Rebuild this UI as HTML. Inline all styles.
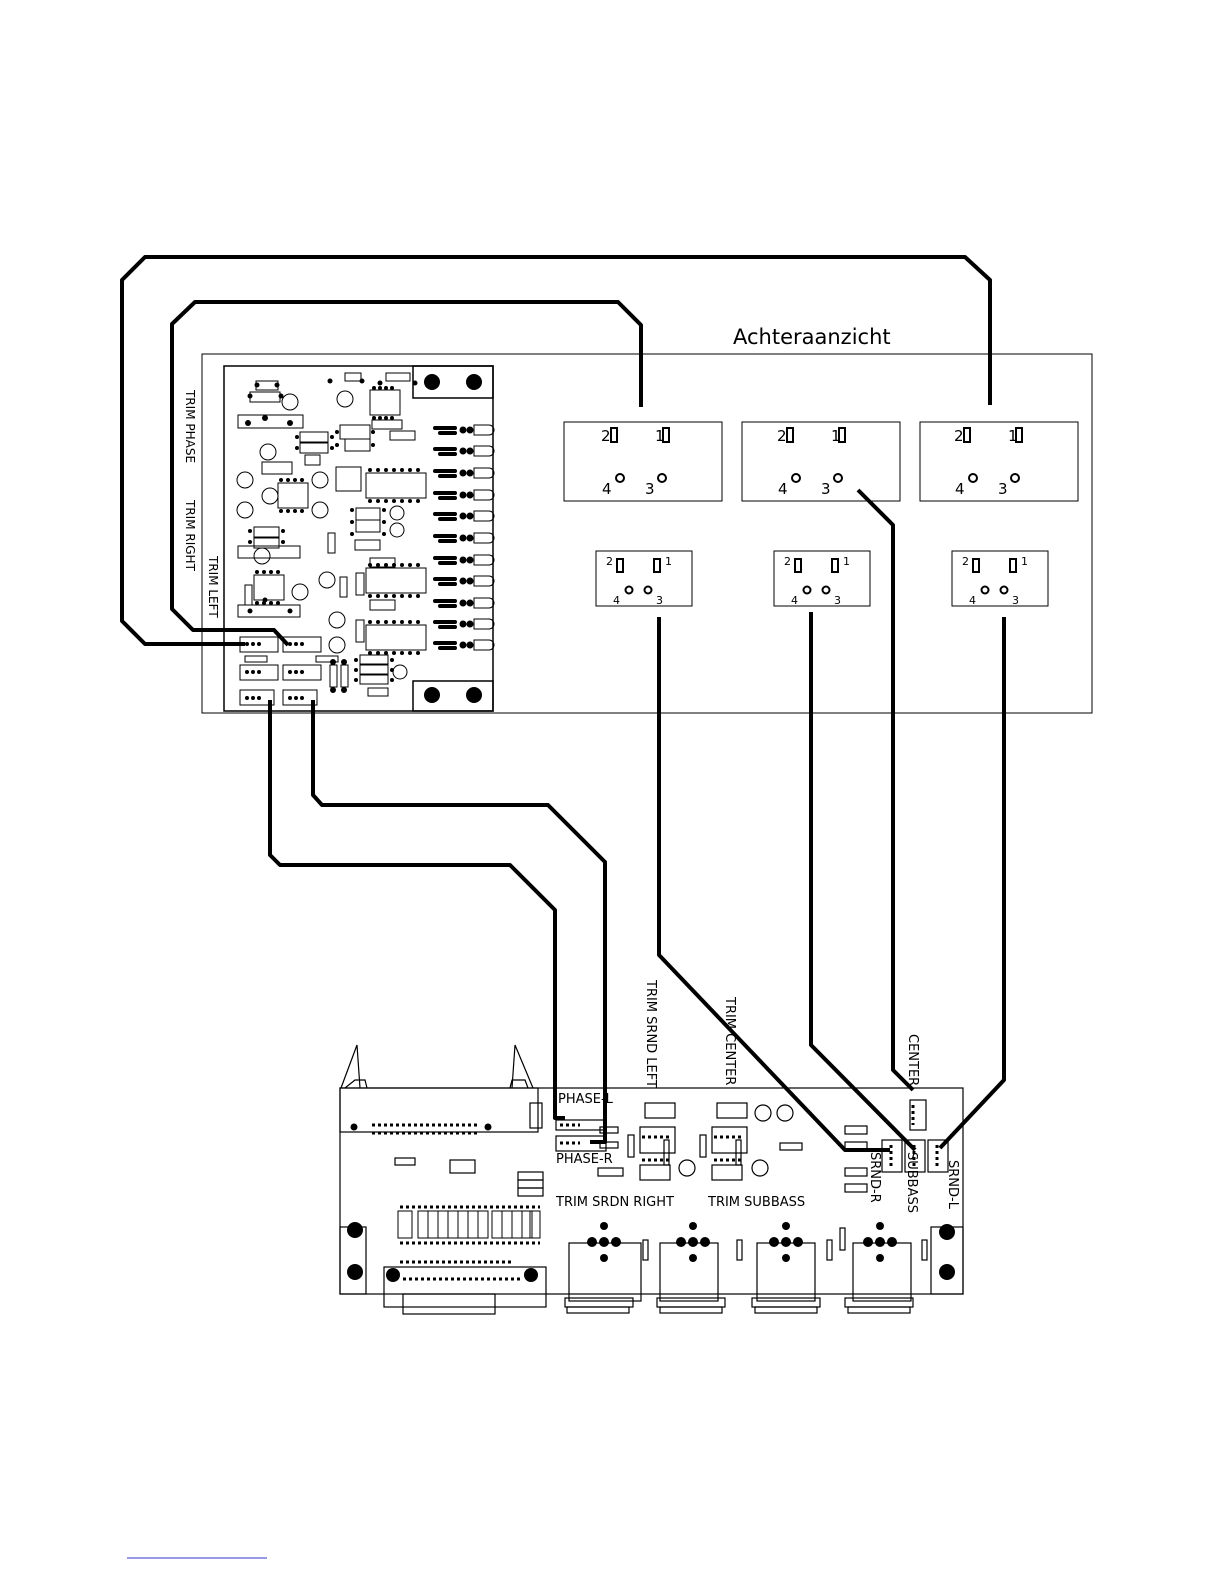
<!DOCTYPE html>
<html><head><meta charset="utf-8"><style>
html,body{margin:0;padding:0;background:#fff;width:1224px;height:1584px;overflow:hidden;}
svg{display:block;position:absolute;left:0;top:0;}
text{font-family:"DejaVu Sans","Liberation Sans",sans-serif;fill:#000;}
</style></head><body>
<svg width="1224" height="1584" viewBox="0 0 1224 1584" xmlns="http://www.w3.org/2000/svg">
<defs>
<g id="pr" stroke="#000"><line x1="435" y1="0" x2="455" y2="0" stroke-width="4" stroke-linecap="round"/><line x1="440" y1="5" x2="455" y2="5" stroke-width="4" stroke-linecap="round"/><circle cx="463" cy="2" r="3"/><circle cx="470" cy="2" r="3"/><path d="M474 -3 H489 A5 5 0 0 1 489 7 H474 Z" fill="none" stroke-width="1"/></g>
<g id="cb1">
<text x="601" y="441" font-size="15">2</text><rect x="611" y="428" width="6" height="14" fill="none" stroke="#000" stroke-width="2"/>
<text x="655" y="441" font-size="15">1</text><rect x="663" y="428" width="6" height="14" fill="none" stroke="#000" stroke-width="2"/>
<text x="602" y="494" font-size="15">4</text><circle cx="620" cy="478" r="4" fill="none" stroke="#000" stroke-width="2"/>
<text x="645" y="494" font-size="15">3</text><circle cx="662" cy="478" r="4" fill="none" stroke="#000" stroke-width="2"/>
</g>
<g id="cb2">
<text x="606" y="565" font-size="11">2</text><rect x="617" y="559" width="6" height="13" fill="none" stroke="#000" stroke-width="2"/>
<rect x="654" y="559" width="6" height="13" fill="none" stroke="#000" stroke-width="2"/><text x="665" y="565" font-size="11">1</text>
<text x="613" y="604" font-size="11">4</text><circle cx="629" cy="590" r="3.5" fill="none" stroke="#000" stroke-width="2"/>
<circle cx="648" cy="590" r="3.5" fill="none" stroke="#000" stroke-width="2"/><text x="656" y="604" font-size="11">3</text>
</g>
</defs>
<!-- top panel -->
<rect x="202" y="354" width="890" height="359" fill="none" stroke="#000" stroke-width="1"/>
<text x="733" y="344" font-size="21">Achteraanzicht</text>
<!-- top PCB -->
<rect x="224" y="366" width="269" height="345" fill="none" stroke="#000" stroke-width="1.5"/>
<rect x="413" y="366" width="80" height="32" fill="none" stroke="#000" stroke-width="1.5"/>
<circle cx="432" cy="382" r="8"/><circle cx="474" cy="382" r="8"/>
<rect x="413" y="681" width="80" height="30" fill="none" stroke="#000" stroke-width="1.5"/>
<circle cx="432" cy="695" r="8"/><circle cx="474" cy="695" r="8"/>
<use href="#pr" y="428"/><use href="#pr" y="449"/><use href="#pr" y="471"/><use href="#pr" y="493"/><use href="#pr" y="514"/><use href="#pr" y="536"/><use href="#pr" y="558"/><use href="#pr" y="579"/><use href="#pr" y="601"/><use href="#pr" y="622"/><use href="#pr" y="643"/>
<g fill="none" stroke="#000">
<rect x="370" y="390" width="30" height="25"/><rect x="366" y="473" width="60" height="25"/><rect x="366" y="568" width="60" height="25"/><rect x="366" y="625" width="60" height="25"/>
<rect x="278" y="483" width="30" height="25"/><rect x="254" y="575" width="30" height="25"/>
<rect x="256" y="381" width="22" height="9"/><rect x="250" y="392" width="30" height="10"/><rect x="238" y="415" width="65" height="13"/>
<rect x="300" y="432" width="28" height="10"/><rect x="300" y="443" width="28" height="10"/><rect x="305" y="455" width="15" height="10"/>
<rect x="262" y="462" width="30" height="12"/><rect x="254" y="527" width="25" height="10"/><rect x="254" y="538" width="25" height="10"/>
<rect x="238" y="546" width="62" height="12"/><rect x="238" y="605" width="62" height="12"/>
<rect x="345" y="373" width="16" height="8"/><rect x="386" y="373" width="24" height="8"/><rect x="340" y="425" width="30" height="14"/><rect x="345" y="439" width="25" height="12"/>
<rect x="372" y="420" width="30" height="9"/><rect x="390" y="431" width="25" height="9"/>
<rect x="336" y="467" width="25" height="24"/><rect x="356" y="508" width="24" height="12"/><rect x="356" y="520" width="24" height="12"/><rect x="355" y="540" width="25" height="10"/>
<rect x="370" y="558" width="25" height="9"/><rect x="356" y="573" width="8" height="22"/><rect x="356" y="620" width="8" height="22"/><rect x="370" y="600" width="25" height="10"/>
<rect x="360" y="655" width="28" height="9"/><rect x="360" y="665" width="28" height="9"/><rect x="360" y="675" width="28" height="9"/><rect x="368" y="688" width="20" height="8"/>
<rect x="328" y="533" width="7" height="20"/><rect x="340" y="577" width="7" height="20"/><rect x="245" y="585" width="7" height="20"/><rect x="330" y="665" width="7" height="22"/><rect x="341" y="665" width="7" height="22"/>
<rect x="240" y="637" width="38" height="15"/><rect x="283" y="637" width="38" height="15"/><rect x="240" y="665" width="38" height="15"/><rect x="283" y="665" width="38" height="15"/><rect x="240" y="690" width="34" height="15"/><rect x="283" y="690" width="34" height="15"/>
<rect x="245" y="656" width="22" height="6"/><rect x="316" y="656" width="22" height="6"/>
<circle cx="290" cy="402" r="8"/><circle cx="345" cy="399" r="8"/><circle cx="268" cy="452" r="8"/><circle cx="245" cy="480" r="8"/><circle cx="270" cy="496" r="8"/><circle cx="245" cy="510" r="8"/><circle cx="320" cy="480" r="8"/><circle cx="320" cy="510" r="8"/><circle cx="397" cy="513" r="7"/><circle cx="397" cy="530" r="7"/><circle cx="262" cy="556" r="8"/><circle cx="327" cy="580" r="8"/><circle cx="300" cy="592" r="8"/><circle cx="337" cy="620" r="8"/><circle cx="337" cy="645" r="8"/><circle cx="400" cy="672" r="7"/>
</g>
<g fill="#000">
<circle cx="257" cy="385" r="2.5"/><circle cx="277" cy="385" r="2.5"/><circle cx="250" cy="396" r="2.5"/><circle cx="281" cy="396" r="2.5"/><circle cx="265" cy="418" r="3"/><circle cx="290" cy="423" r="3"/><circle cx="248" cy="423" r="3"/>
<circle cx="330" cy="381" r="2.5"/><circle cx="362" cy="381" r="2.5"/><circle cx="380" cy="383" r="2.5"/><circle cx="415" cy="383" r="2.5"/>
<circle cx="374" cy="388" r="2"/><circle cx="380" cy="388" r="2"/><circle cx="386" cy="388" r="2"/><circle cx="392" cy="388" r="2"/><circle cx="374" cy="418" r="2"/><circle cx="380" cy="418" r="2"/><circle cx="386" cy="418" r="2"/><circle cx="392" cy="418" r="2"/>
<circle cx="370" cy="470" r="2"/><circle cx="378" cy="470" r="2"/><circle cx="386" cy="470" r="2"/><circle cx="394" cy="470" r="2"/><circle cx="402" cy="470" r="2"/><circle cx="410" cy="470" r="2"/><circle cx="418" cy="470" r="2"/>
<circle cx="370" cy="501" r="2"/><circle cx="378" cy="501" r="2"/><circle cx="386" cy="501" r="2"/><circle cx="394" cy="501" r="2"/><circle cx="402" cy="501" r="2"/><circle cx="410" cy="501" r="2"/><circle cx="418" cy="501" r="2"/>
<circle cx="370" cy="565" r="2"/><circle cx="378" cy="565" r="2"/><circle cx="386" cy="565" r="2"/><circle cx="394" cy="565" r="2"/><circle cx="402" cy="565" r="2"/><circle cx="410" cy="565" r="2"/><circle cx="418" cy="565" r="2"/>
<circle cx="370" cy="596" r="2"/><circle cx="378" cy="596" r="2"/><circle cx="386" cy="596" r="2"/><circle cx="394" cy="596" r="2"/><circle cx="402" cy="596" r="2"/><circle cx="410" cy="596" r="2"/><circle cx="418" cy="596" r="2"/>
<circle cx="370" cy="622" r="2"/><circle cx="378" cy="622" r="2"/><circle cx="386" cy="622" r="2"/><circle cx="394" cy="622" r="2"/><circle cx="402" cy="622" r="2"/><circle cx="410" cy="622" r="2"/><circle cx="418" cy="622" r="2"/>
<circle cx="370" cy="653" r="2"/><circle cx="378" cy="653" r="2"/><circle cx="386" cy="653" r="2"/><circle cx="394" cy="653" r="2"/><circle cx="402" cy="653" r="2"/><circle cx="410" cy="653" r="2"/><circle cx="418" cy="653" r="2"/>
<circle cx="281" cy="480" r="2"/><circle cx="288" cy="480" r="2"/><circle cx="295" cy="480" r="2"/><circle cx="302" cy="480" r="2"/><circle cx="281" cy="511" r="2"/><circle cx="288" cy="511" r="2"/><circle cx="295" cy="511" r="2"/><circle cx="302" cy="511" r="2"/>
<circle cx="257" cy="572" r="2"/><circle cx="264" cy="572" r="2"/><circle cx="271" cy="572" r="2"/><circle cx="278" cy="572" r="2"/><circle cx="257" cy="603" r="2"/><circle cx="264" cy="603" r="2"/><circle cx="271" cy="603" r="2"/><circle cx="278" cy="603" r="2"/>
<circle cx="297" cy="437" r="2"/><circle cx="297" cy="448" r="2"/><circle cx="332" cy="437" r="2"/><circle cx="332" cy="448" r="2"/><circle cx="337" cy="432" r="2"/><circle cx="337" cy="445" r="2"/><circle cx="373" cy="432" r="2"/><circle cx="373" cy="445" r="2"/>
<circle cx="352" cy="510" r="2"/><circle cx="352" cy="522" r="2"/><circle cx="352" cy="534" r="2"/><circle cx="384" cy="510" r="2"/><circle cx="384" cy="522" r="2"/><circle cx="384" cy="534" r="2"/>
<circle cx="250" cy="531" r="2"/><circle cx="250" cy="542" r="2"/><circle cx="283" cy="531" r="2"/><circle cx="283" cy="542" r="2"/>
<circle cx="250" cy="611" r="2.5"/><circle cx="290" cy="611" r="2.5"/><circle cx="265" cy="600" r="2.5"/>
<circle cx="356" cy="660" r="2"/><circle cx="356" cy="670" r="2"/><circle cx="356" cy="680" r="2"/><circle cx="392" cy="660" r="2"/><circle cx="392" cy="670" r="2"/><circle cx="392" cy="680" r="2"/>
<circle cx="333" cy="662" r="3"/><circle cx="344" cy="662" r="3"/><circle cx="333" cy="690" r="3"/><circle cx="344" cy="690" r="3"/>
<circle cx="247" cy="644" r="2"/><circle cx="253" cy="644" r="2"/><circle cx="259" cy="644" r="2"/><circle cx="290" cy="644" r="2"/><circle cx="296" cy="644" r="2"/><circle cx="302" cy="644" r="2"/>
<circle cx="247" cy="672" r="2"/><circle cx="253" cy="672" r="2"/><circle cx="259" cy="672" r="2"/><circle cx="290" cy="672" r="2"/><circle cx="296" cy="672" r="2"/><circle cx="302" cy="672" r="2"/>
<circle cx="247" cy="698" r="2"/><circle cx="253" cy="698" r="2"/><circle cx="259" cy="698" r="2"/><circle cx="290" cy="698" r="2"/><circle cx="296" cy="698" r="2"/><circle cx="302" cy="698" r="2"/>
</g>
<g font-size="12">
<text transform="translate(186,390) rotate(90)">TRIM PHASE</text>
<text transform="translate(186,500) rotate(90)">TRIM RIGHT</text>
<text transform="translate(209,556) rotate(90)">TRIM LEFT</text>
</g>
<g fill="none" stroke="#000" stroke-width="1">
<rect x="564" y="422" width="158" height="79"/><rect x="742" y="422" width="158" height="79"/><rect x="920" y="422" width="158" height="79"/>
<rect x="596" y="551" width="96" height="55"/><rect x="774" y="551" width="96" height="55"/><rect x="952" y="551" width="96" height="55"/>
</g>
<use href="#cb1"/><use href="#cb1" x="176"/><use href="#cb1" x="353"/>
<use href="#cb2"/><use href="#cb2" x="178"/><use href="#cb2" x="356"/>
<!-- bottom PCB -->
<g fill="none" stroke="#000" stroke-width="1.2">
<rect x="340" y="1088" width="623" height="206"/>
<rect x="340" y="1088" width="198" height="44"/>
<path d="M341 1088 L357 1045 L360 1088 M345 1088 L355 1080 H365 L367 1088 M512 1088 L515 1045 L533 1088 M510 1088 L512 1080 H525 L528 1088"/>
<rect x="340" y="1227" width="26" height="67"/><rect x="931" y="1227" width="32" height="67"/>
<rect x="384" y="1267" width="162" height="40"/><rect x="403" y="1294" width="92" height="20"/>
<rect x="556" y="1120" width="50" height="10"/><rect x="556" y="1136" width="50" height="15"/>
<rect x="910" y="1100" width="16" height="30"/>
<rect x="882" y="1140" width="20" height="32"/><rect x="905" y="1140" width="20" height="32"/><rect x="928" y="1140" width="20" height="32"/>
<rect x="530" y="1103" width="12" height="25"/>
<rect x="395" y="1158" width="20" height="7"/><rect x="450" y="1160" width="25" height="13"/>
<rect x="518" y="1172" width="25" height="8"/><rect x="518" y="1180" width="25" height="8"/><rect x="518" y="1188" width="25" height="8"/>
<rect x="645" y="1103" width="30" height="15"/><rect x="717" y="1103" width="30" height="15"/>
<rect x="640" y="1127" width="35" height="26"/><rect x="712" y="1127" width="35" height="26"/>
<rect x="640" y="1165" width="30" height="15"/><rect x="712" y="1165" width="30" height="15"/>
<rect x="598" y="1168" width="25" height="8"/><rect x="600" y="1127" width="18" height="6"/><rect x="600" y="1142" width="18" height="6"/>
<rect x="845" y="1126" width="22" height="8"/><rect x="845" y="1142" width="22" height="8"/><rect x="845" y="1168" width="22" height="8"/><rect x="845" y="1184" width="22" height="8"/><rect x="780" y="1143" width="22" height="7"/>
<rect x="628" y="1135" width="6" height="22"/><rect x="700" y="1135" width="6" height="22"/><rect x="664" y="1140" width="5" height="25"/><rect x="736" y="1140" width="5" height="25"/>
<circle cx="763" cy="1113" r="8"/><circle cx="785" cy="1113" r="8"/><circle cx="687" cy="1168" r="8"/><circle cx="760" cy="1168" r="8"/>
<rect x="569" y="1243" width="72" height="58"/><rect x="660" y="1243" width="58" height="58"/><rect x="757" y="1243" width="58" height="58"/><rect x="853" y="1243" width="58" height="58"/>
<rect x="565" y="1298" width="68" height="9"/><rect x="657" y="1298" width="68" height="9"/><rect x="752" y="1298" width="68" height="9"/><rect x="845" y="1298" width="68" height="9"/>
<rect x="567" y="1307" width="62" height="6"/><rect x="660" y="1307" width="62" height="6"/><rect x="755" y="1307" width="62" height="6"/><rect x="848" y="1307" width="62" height="6"/>
<rect x="643" y="1240" width="5" height="20"/><rect x="737" y="1240" width="5" height="20"/><rect x="827" y="1240" width="5" height="20"/><rect x="922" y="1240" width="5" height="20"/><rect x="840" y="1228" width="5" height="22"/>
</g>
<g fill="none" stroke="#000" stroke-width="1">
<rect x="398" y="1211" width="14" height="27"/><rect x="418" y="1211" width="10" height="27"/><rect x="428" y="1211" width="10" height="27"/><rect x="438" y="1211" width="10" height="27"/><rect x="448" y="1211" width="10" height="27"/><rect x="458" y="1211" width="10" height="27"/><rect x="468" y="1211" width="10" height="27"/><rect x="478" y="1211" width="10" height="27"/><rect x="492" y="1211" width="10" height="27"/><rect x="502" y="1211" width="10" height="27"/><rect x="512" y="1211" width="10" height="27"/><rect x="522" y="1211" width="10" height="27"/><rect x="530" y="1211" width="10" height="27"/>
</g>
<g fill="#000">
<circle cx="355" cy="1230" r="8"/><circle cx="355" cy="1272" r="8"/><circle cx="947" cy="1232" r="8"/><circle cx="947" cy="1272" r="8"/>
<circle cx="393" cy="1275" r="7"/><circle cx="531" cy="1275" r="7"/><circle cx="354" cy="1127" r="3.5"/><circle cx="488" cy="1127" r="3.5"/>
<circle cx="604" cy="1242" r="5"/><circle cx="592" cy="1242" r="5"/><circle cx="616" cy="1242" r="5"/><circle cx="604" cy="1226" r="4"/><circle cx="604" cy="1258" r="4"/>
<circle cx="693" cy="1242" r="5"/><circle cx="681" cy="1242" r="5"/><circle cx="705" cy="1242" r="5"/><circle cx="693" cy="1226" r="4"/><circle cx="693" cy="1258" r="4"/>
<circle cx="786" cy="1242" r="5"/><circle cx="774" cy="1242" r="5"/><circle cx="798" cy="1242" r="5"/><circle cx="786" cy="1226" r="4"/><circle cx="786" cy="1258" r="4"/>
<circle cx="880" cy="1242" r="5"/><circle cx="868" cy="1242" r="5"/><circle cx="892" cy="1242" r="5"/><circle cx="880" cy="1226" r="4"/><circle cx="880" cy="1258" r="4"/>
</g>
<g stroke="#000" stroke-width="3" stroke-dasharray="3,3">
<line x1="372" y1="1125" x2="478" y2="1125"/><line x1="372" y1="1133" x2="478" y2="1133"/>
<line x1="400" y1="1207" x2="540" y2="1207"/><line x1="400" y1="1243" x2="540" y2="1243"/>
<line x1="400" y1="1262" x2="512" y2="1262"/><line x1="403" y1="1279" x2="520" y2="1279"/>
<line x1="560" y1="1125" x2="580" y2="1125"/><line x1="560" y1="1143" x2="580" y2="1143"/>
<line x1="913" y1="1105" x2="913" y2="1125"/><line x1="891" y1="1145" x2="891" y2="1167"/><line x1="914" y1="1145" x2="914" y2="1167"/><line x1="937" y1="1145" x2="937" y2="1167"/>
<line x1="642" y1="1137" x2="670" y2="1137"/><line x1="714" y1="1137" x2="742" y2="1137"/><line x1="642" y1="1160" x2="670" y2="1160"/><line x1="714" y1="1160" x2="742" y2="1160"/>
</g>
<g font-size="13">
<text x="558" y="1103">PHASE-L</text><text x="556" y="1163">PHASE-R</text>
<text x="556" y="1206">TRIM SRDN RIGHT</text><text x="708" y="1206">TRIM SUBBASS</text>
<text transform="translate(647,980) rotate(90)">TRIM SRND LEFT</text>
<text transform="translate(726,997) rotate(90)">TRIM CENTER</text>
<text transform="translate(909,1034) rotate(90)">CENTER</text>
<text transform="translate(871,1152) rotate(90)">SRND-R</text>
<text transform="translate(908,1152) rotate(90)">SUBBASS</text>
<text transform="translate(949,1160) rotate(90)">SRND-L</text>
</g>
<g fill="none" stroke="#000" stroke-width="4" stroke-linejoin="round">
<path d="M245 644 H145 L122 621 V280 L145 257 H965 L990 280 V405"/>
<path d="M288 645 L274 630 H193 L172 609 V324 L195 302 H618 L641 325 V407"/>
<path d="M270 700 V855 L280 865 H510 L555 910 V1118 H565"/>
<path d="M313 700 V795 L322 805 H548 L605 862 V1142 H590"/>
<path d="M659 617 V955 L845 1150 H890"/>
<path d="M811 612 V1045 L915 1150"/>
<path d="M1004 617 V1080 L940 1148"/>
<path d="M858 490 L893 525 V1070 L913 1090"/>
</g>
<line x1="127" y1="1558" x2="267" y2="1558" stroke="#33c" stroke-width="1"/>
</svg>
</body></html>
